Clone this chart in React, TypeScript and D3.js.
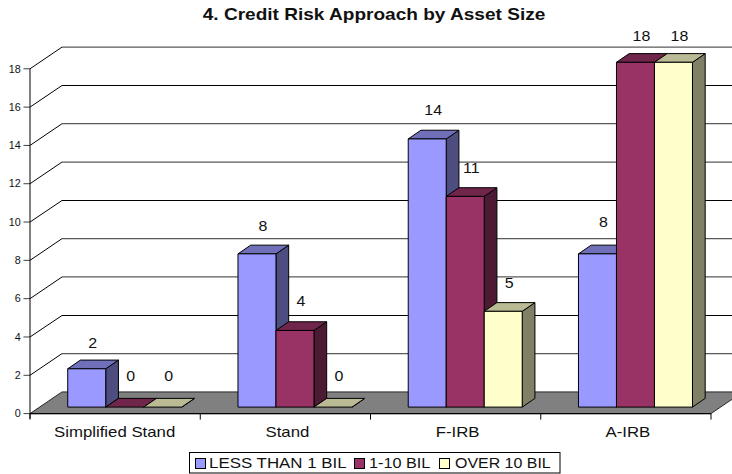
import React from "react";
import * as d3 from "d3";

const categories = ["Simplified Stand", "Stand", "F-IRB", "A-IRB"];
const seriesNames = ["LESS THAN 1 BIL", "1-10 BIL", "OVER 10 BIL"];
const lessThan1 = [2, 8, 14, 8];
const oneToTen = [0, 4, 11, 18];
const over10 = [0, 0, 5, 18];
const yTicks = [0, 2, 4, 6, 8, 10, 12, 14, 16, 18];

const fronts = ["#9999FF", "#993366", "#FFFFCC"];
const tops = ["#6F6FBA", "#70264B", "#BABA95"];
const sides = ["#4D4D80", "#4D1A33", "#808066"];
const seriesValues = [lessThan1, oneToTen, over10];

const W = 732;
const H = 474;
const FONT = "'Liberation Sans', Arial, sans-serif";

// Oblique projection of the 3D box: wall depth and per-bar depth
const wallDx = 32;
const wallDy = -21.7;
const barDx = 12.7;
const barDy = -8.7;
const insetDx = 9.6;
const insetDy = -6.5;

const y = d3.scaleLinear().domain([0, 18]).range([413.6, 68.8]);
const x0 = d3.scaleBand<string>().domain(categories).range([30, 711]).paddingInner(0).paddingOuter(0);
const groupInner = 114;
const x1 = d3
  .scaleBand<number>()
  .domain([0, 1, 2])
  .range([(x0.bandwidth() - groupInner) / 2, (x0.bandwidth() + groupInner) / 2]);

const pts = (p: [number, number][]) => p.map((d) => d.join(",")).join(" ");

// Text in this chart is set wider than the font's natural proportions
function WideText(props: {
  x: number;
  y: number;
  size: number;
  stretch: number;
  anchor?: string;
  weight?: string;
  children: React.ReactNode;
}) {
  const { x, y: ty, size, stretch, anchor = "middle", weight = "normal", children } = props;
  return (
    <text
      transform={`translate(${x},${ty}) scale(${stretch},1)`}
      textAnchor={anchor}
      fontSize={size}
      fontWeight={weight}
      fill="#111"
    >
      {children}
    </text>
  );
}

const categoryNudge = [-0.5, 2, 2, 2];
const legendSwatchX = [195, 354, 439];
const legendTextGap = [14, 15, 16];
const legendStretch = [1.165, 1.12, 1.1];
// Baseline lift of each data label above its bar's front top edge, by series then category
const labelLift = [
  [21, 23, 24, 27],
  [26.5, 24, 23, 21.5],
  [26.5, 26.5, 23, 21.5],
];

export default function App() {
  const left = 30;
  const right = 711;
  const base = y(0);
  const w = x1.bandwidth();
  return (
    <svg
      width={W}
      height={H}
      viewBox={`0 0 ${W} ${H}`}
      style={{ position: "absolute", left: 0, top: 0, background: "#fff" }}
      fontFamily={FONT}
    >
      <WideText x={374} y={20} size={16.5} stretch={1.155} weight="bold">
        4. Credit Risk Approach by Asset Size
      </WideText>

      {/* Floor of the plot box */}
      <polygon
        points={pts([
          [left, base],
          [left + wallDx, base + wallDy],
          [right + wallDx, base + wallDy],
          [right, base],
        ])}
        fill="#808080"
        stroke="#000"
        strokeWidth={0.8}
      />

      {/* Gridlines across the back wall and up the left wall */}
      {yTicks
        .filter((t) => t > 0)
        .map((t) => {
          const yy = y(t);
          const strong = (18 - t) % 6 === 2;
          const backY = strong ? Math.round(yy + wallDy) + 0.5 : yy + wallDy;
          return (
            <g key={t} fill="none">
              <line x1={left} y1={yy} x2={left + wallDx} y2={backY} stroke="#000" strokeWidth={1} />
              <line
                x1={left + wallDx}
                y1={backY}
                x2={right + wallDx}
                y2={backY}
                stroke={strong ? "#000" : "#5a5a5a"}
                strokeWidth={strong ? 1 : 1.3}
              />
            </g>
          );
        })}

      {/* Value axis */}
      <line x1={left} y1={y(18)} x2={left} y2={base + 5} stroke="#000" strokeWidth={1} />
      {yTicks.map((t) => (
        <g key={t}>
          <line x1={left - 6.5} x2={left} y1={y(t)} y2={y(t)} stroke="#000" strokeOpacity={0.75} strokeWidth={1} />
          <WideText x={left - 9.3} y={y(t) + 3.7} size={10} stretch={1.08} anchor="end">
            {t}
          </WideText>
        </g>
      ))}

      {/* Category axis */}
      <line x1={left} y1={base} x2={right} y2={base} stroke="#000" strokeWidth={1.2} />
      {[...categories.map((c) => x0(c) as number), right].map((tx) => (
        <line key={tx} x1={tx} x2={tx} y1={base} y2={base + 6} stroke="#000" strokeWidth={1} />
      ))}
      {categories.map((c, i) => (
        <WideText
          key={c}
          x={(x0(c) as number) + x0.bandwidth() / 2 + categoryNudge[i]}
          y={436.7}
          size={14}
          stretch={1.2}
        >
          {c}
        </WideText>
      ))}

      {/* Bars, painted left to right so each one overlaps its neighbour's side */}
      {categories.map((c, ci) => (
        <g key={c} stroke="#000" strokeWidth={1} strokeLinejoin="round">
          {seriesValues.map((vals, si) => {
            const xl = (x0(c) as number) + (x1(si) as number) + insetDx;
            const xr = xl + w;
            const yb = base + insetDy;
            const yt = y(vals[ci]) + insetDy;
            return (
              <g key={si}>
                <polygon
                  points={pts([
                    [xr, yt],
                    [xr + barDx, yt + barDy],
                    [xr + barDx, yb + barDy],
                    [xr, yb],
                  ])}
                  fill={sides[si]}
                />
                <polygon
                  points={pts([
                    [xl, yt],
                    [xl + barDx, yt + barDy],
                    [xr + barDx, yt + barDy],
                    [xr, yt],
                  ])}
                  fill={tops[si]}
                />
                <rect x={xl} y={yt} width={w} height={yb - yt} fill={fronts[si]} />
              </g>
            );
          })}
        </g>
      ))}

      {/* Data labels */}
      {categories.map((c, ci) =>
        seriesValues.map((vals, si) => {
          const xl = (x0(c) as number) + (x1(si) as number) + insetDx;
          const yt = y(vals[ci]) + insetDy;
          return (
            <WideText
              key={`${c}-${si}`}
              x={xl + w / 2 + 6}
              y={yt - labelLift[si][ci]}
              size={14.5}
              stretch={1.1}
            >
              {vals[ci]}
            </WideText>
          );
        })
      )}

      {/* Legend */}
      <rect x={189.5} y={452.5} width={370.5} height={20.5} fill="#fff" stroke="#000" strokeWidth={1} />
      {seriesNames.map((n, i) => {
        const sx = legendSwatchX[i];
        return (
          <g key={n}>
            <rect x={sx + 0.5} y={458.5} width={10} height={10} fill={fronts[i]} stroke="#000" strokeWidth={1} />
            <WideText x={sx + legendTextGap[i]} y={467.7} size={14.5} stretch={legendStretch[i]} anchor="start">
              {n}
            </WideText>
          </g>
        );
      })}
    </svg>
  );
}
